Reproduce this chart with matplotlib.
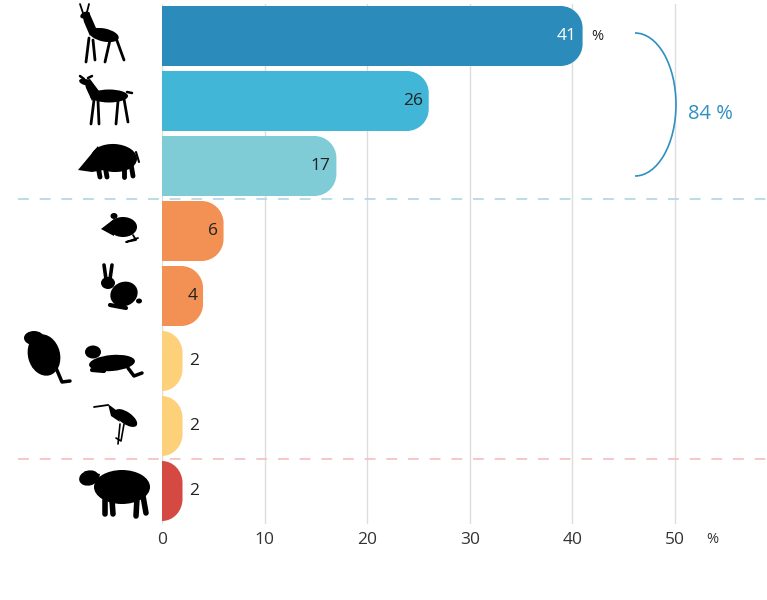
import numpy as np
import matplotlib
matplotlib.use("Agg")
import matplotlib.pyplot as plt
from matplotlib.path import Path
from matplotlib.patches import PathPatch, Ellipse, Polygon, Arc

# data
species = ["Reh", "Rothirsch", "Wildschwein", "Maus", "Hase", "Biber/Marder", "Reiher", "Schaf"]
values = [41, 26, 17, 6, 4, 2, 2, 2]
colors = ["#2b8bbb", "#41b6d6", "#7fcbd6", "#f29153", "#f29153", "#fdd07a", "#fdd07a", "#d44a43"]
ticks = [0, 10, 20, 30, 40, 50]
group_size = 3
group_total = sum(values[:group_size])

plt.rcParams['font.family'] = ['Open Sans', 'DejaVu Sans']

fig = plt.figure(figsize=(7.67, 6.0), dpi=100)
W, H = 767, 600
x0_px, x1_px = 162, 757
y_top, y_bot = 3.5, 523.5
ax = fig.add_axes([x0_px / W, 1 - y_bot / H, (x1_px - x0_px) / W, (y_bot - y_top) / H])
ax.set_xlim(0, 58)
ax.set_ylim(len(values) - 0.5, -0.5)

px_per_x = (x1_px - x0_px) / 58
px_per_y = (y_bot - y_top) / len(values)


def rounded_bar(ax, y, w, h, color, r_px=22):
    rx = min(r_px / px_per_x, w)
    ry = r_px / px_per_y
    k = 0.5523
    a, b = y - h / 2, y + h / 2
    verts = [(0, a), (w - rx, a),
             (w - rx + k * rx, a), (w, a + ry - k * ry), (w, a + ry),
             (w, b - ry),
             (w, b - ry + k * ry), (w - rx + k * rx, b), (w - rx, b),
             (0, b), (0, a)]
    codes = [Path.MOVETO, Path.LINETO,
             Path.CURVE4, Path.CURVE4, Path.CURVE4,
             Path.LINETO,
             Path.CURVE4, Path.CURVE4, Path.CURVE4,
             Path.LINETO, Path.CLOSEPOLY]
    ax.add_patch(PathPatch(Path(verts, codes), facecolor=color, edgecolor="none", zorder=3))


for i, (v, c) in enumerate(zip(values, colors)):
    rounded_bar(ax, i, v, 60 / 65, c)
    if v >= 4:
        ax.text(v - 0.55, i, str(v), ha="right", va="center", fontsize=12.5,
                color="white" if i == 0 else "#222222", zorder=4)
    else:
        ax.text(v + 0.6, i, str(v), ha="left", va="center", fontsize=12.5,
                color="#222222", zorder=4)
ax.text(values[0] + 0.8, 0, "%", ha="left", va="center", fontsize=10.5, color="#222222")

for t in ticks:
    ax.axvline(t, color="#dddddd", lw=1, zorder=1)

ax.set_xticks(ticks)
ax.set_xticklabels([str(t) for t in ticks], fontsize=12.5, color="#333333")
ax.tick_params(axis="x", length=0, pad=6)
ax.set_yticks([])
for s in ax.spines.values():
    s.set_visible(False)
ax.text(53.6, -0.03, "%", transform=ax.get_xaxis_transform(), ha="center", va="center",
        fontsize=10.5, color="#333333")

# separators
ax.plot([-0.242, 1.02], [group_size - 0.5] * 2, transform=ax.get_yaxis_transform(),
        color="#b5d9ea", lw=1.3, ls=(0, (6, 6)), clip_on=False, zorder=2)
ax.plot([-0.242, 1.02], [len(values) - 1.5] * 2, transform=ax.get_yaxis_transform(),
        color="#f4c4c4", lw=1.3, ls=(0, (6, 6)), clip_on=False, zorder=2)

# overlay in pixel coordinates for brace and icons
ov = fig.add_axes([0, 0, 1, 1], facecolor="none")
ov.set_xlim(0, W)
ov.set_ylim(H, 0)
ov.axis("off")

ov.add_patch(Arc((635, 104.5), 82, 143, theta1=-90, theta2=90, color="#2e8fc0", lw=1.2))
ov.text(688, 114, f"{group_total} %", ha="left", va="center", fontsize=14.5, color="#2e8fc0")

K = "black"


def ell(cx, cy, w, h, ang=0):
    ov.add_patch(Ellipse((cx, cy), w, h, angle=ang, facecolor=K, edgecolor="none"))


def poly(pts):
    ov.add_patch(Polygon(pts, closed=True, facecolor=K, edgecolor="none"))


def line(pts, lw=2.5):
    p = np.array(pts)
    ov.plot(p[:, 0], p[:, 1], color=K, lw=lw, solid_capstyle="round")


# roe deer
line([(83, 13), (80, 4)], 1.3); line([(87, 12), (89, 4)], 1.3)
ell(85, 15, 10, 6, -25)
poly([(82, 14), (89, 12), (96, 28), (90, 36), (84, 22)])
ell(104, 35, 30, 13, 12)
line([(89, 38), (86, 62)], 2.0); line([(93, 40), (95, 60)], 2.0)
line([(110, 40), (105, 62)], 2.0); line([(116, 38), (124, 60)], 2.0)

# red deer doe
line([(84, 79), (80, 76)], 1.8); line([(88, 78), (92, 76)], 1.8)
ell(85, 82, 12, 6, 15)
poly([(84, 80), (90, 79), (99, 91), (92, 101), (86, 88)])
ell(109, 96, 38, 13)
line([(127, 92), (132, 93)], 1.8)
line([(94, 100), (91, 124)], 2.0); line([(98, 101), (99, 124)], 2.0)
line([(118, 101), (116, 124)], 2.0); line([(124, 99), (128, 122)], 2.0)

# wild boar
ell(114, 158, 46, 28, 3)
poly([(98, 146), (78, 170), (92, 172), (104, 170)])
line([(98, 166), (100, 177)], 3.5); line([(105, 166), (107, 177)], 3.5)
line([(124, 166), (124, 177)], 3.5); line([(131, 164), (133, 176)], 3.5)
line([(136, 152), (139, 162)], 1.5)

# mouse
ell(123, 227, 28, 20)
poly([(114, 219), (101, 229), (114, 236)])
ell(114, 216, 7, 6)
line([(133, 235), (136, 240), (126, 242), (138, 238)], 1.3)

# hare
ell(124, 294, 28, 24, -25)
ell(108, 283, 14, 12)
line([(106, 279), (104, 265)], 2.6); line([(110, 279), (112, 265)], 2.6)
line([(110, 305), (126, 308)], 3)
ell(139, 301, 6, 5)

# beaver
ell(44, 355, 32, 42, -15)
ell(34, 338, 20, 14)
line([(56, 368), (62, 382), (70, 381)], 2.5)
line([(34, 366), (48, 367)], 3)

# ferret / otter
ell(112, 363, 46, 16, -5)
ell(93, 352, 16, 13)
line([(92, 370), (104, 371)], 3)
line([(128, 368), (134, 376), (142, 373)], 2.5)

# heron
ell(126, 418, 26, 12, 35)
poly([(116, 410), (108, 404), (111, 416), (120, 422)])
line([(108, 405), (94, 407)], 1.3)
line([(120, 424), (118, 444)], 1.2); line([(124, 424), (121, 441), (116, 438)], 1.2)

# sheep
ell(122, 487, 56, 34)
ell(89, 478, 20, 15, -15)
poly([(84, 471), (98, 484), (100, 474)])
line([(105, 500), (105, 514)], 4); line([(112, 500), (113, 514)], 4)
line([(137, 498), (136, 516)], 4); line([(143, 496), (146, 513)], 4)

fig.savefig("out.png", dpi=100, facecolor="white")
